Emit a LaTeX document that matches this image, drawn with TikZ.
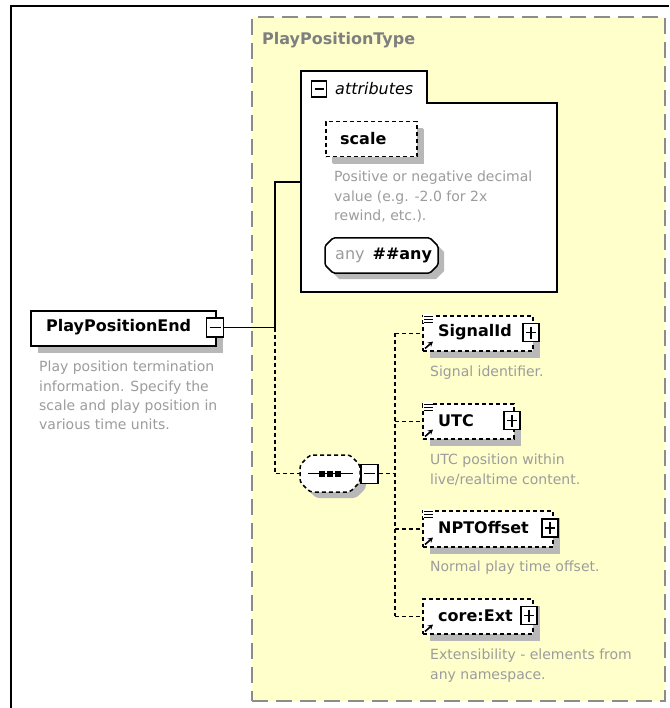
\documentclass[tikz,border=0pt]{standalone}
\usepackage{fontspec}
\setmainfont{DejaVu Sans}
\usetikzlibrary{shadows,arrows.meta}
\definecolor{ylw}{HTML}{FFFFCC}
\definecolor{ybord}{HTML}{8C8C8C}
\definecolor{shd}{HTML}{B8B8B8}
\definecolor{desc}{HTML}{9C9C9C}
\definecolor{ttl}{HTML}{7F7F7F}
\newcommand\NmFont{\fontsize{16}{19}\selectfont\bfseries}
\newcommand\DsFont{\fontsize{14}{19.3}\selectfont}
\newcommand\chamf[5]{({#1+#5},#2) -- ({#3-#5},#2) -- (#3,{#2+#5}) -- (#3,{#4-#5}) -- ({#3-#5},#4) -- ({#1+#5},#4) -- (#1,{#4-#5}) -- (#1,{#2+#5}) -- cycle}
\tikzset{
  shad/.style={drop shadow={shadow xshift=7pt,shadow yshift=-7pt,fill=shd,opacity=1}},
  elembox/.style={draw=black,line width=1.5pt,fill=white,rectangle,inner sep=0pt,anchor=north west,shad},
  optbox/.style={elembox,dash pattern=on 4pt off 3pt},
  nametxt/.style={font=\NmFont,inner sep=0pt,anchor=west},
  desctxt/.style={font=\DsFont,text=desc,inner sep=0pt,anchor=north west,align=left},
  icon/.style={draw=black,line width=1.3pt,fill=white,minimum width=16pt,minimum height=18pt,inner sep=0pt},
  minusicon/.style={icon,path picture={\draw[line width=1.3pt] ([xshift=3pt]path picture bounding box.west) -- ([xshift=-3pt]path picture bounding box.east);}},
  plusicon/.style={icon,path picture={\draw[line width=1.3pt] ([xshift=3pt]path picture bounding box.west) -- ([xshift=-3pt]path picture bounding box.east);
     \draw[line width=1.3pt] ([yshift=-3pt]path picture bounding box.north) -- ([yshift=3pt]path picture bounding box.south);}},
  conn/.style={line width=1.5pt,draw=black},
  dconn/.style={conn,dash pattern=on 4pt off 3pt},
  refarrow/.style={line width=1.6pt,-{Stealth[length=5pt,width=5.5pt]}},
}
\newcommand\kidmarks[1]{%
  \fill[white] ([xshift=1pt,yshift=1pt]#1.north west) rectangle ++(10pt,-9pt);
  \foreach \yy in {1.5,4.5,7.5} \draw[line width=1pt] ([xshift=2pt,yshift=-\yy pt]#1.north west) -- ++(9pt,0pt);
  \draw[refarrow] ([xshift=3pt,yshift=3pt]#1.south west) -- ++(8pt,7pt);
}
\begin{document}
\begin{tikzpicture}[x=1pt,y=-1pt]
\useasboundingbox (0,0) rectangle (669,708);
\fill[white] (0,0) rectangle (669,708);
\draw[line width=2pt] (11,708) -- (11,6) -- (669,6);

% complex type container
\node[draw=ybord,fill=ylw,dash pattern=on 16pt off 8pt,line width=1.6pt,minimum width=413pt,minimum height=684pt,anchor=north west,inner sep=0pt] (ptype) at (251,16) {};
\node[font=\NmFont,text=ttl,anchor=west,inner sep=0pt] (ptypeT) at (262,40) {PlayPositionType};

% attributes box
\draw[line width=1.5pt,fill=white] (301,71) -- (427,71) -- (427,103) -- (557,103) -- (557,292) -- (301,292) -- cycle;
\coordinate (attrIn) at (301,182);
\node[minusicon,minimum width=15pt,minimum height=16pt] (attrI) at (319,89) {};
\node[font=\fontsize{16}{19}\selectfont\itshape,anchor=west,inner sep=0pt] (attrT) at (335,89) {attributes};

\node[optbox,minimum width=91pt,minimum height=35pt,drop shadow={shadow xshift=6pt,shadow yshift=-6pt,fill=shd,opacity=1}] (scale) at (325,121) {};
\node[nametxt] (scaleT) at (340,138.5) {scale};
\node[desctxt] (scaleD) at (334,171) {Positive or negative decimal\\value (e.g. -2.0 for 2x\\rewind, etc.).};

\fill[shd] \chamf{331}{244}{444}{279}{8};
\filldraw[fill=white,draw=black,line width=1.5pt,rounded corners=1.5pt] \chamf{325}{238}{438}{273}{8};
\node[inner sep=0pt,minimum width=113pt,minimum height=35pt,anchor=north west] (anyB) at (325,238) {};
\node[anchor=west,inner sep=0pt,font=\fontsize{16}{19}\selectfont] (anyT) at (335,255.5) {\textcolor{desc}{any}\hspace{8pt}\textbf{\#\#any}};

% root element
\node[elembox,minimum width=185pt,minimum height=35pt] (ppe) at (30,310) {};
\node[nametxt] (ppeT) at (46,327.5) {PlayPositionEnd};
\node[minusicon,minimum width=17pt,minimum height=19pt] (ppeI) at (215,327.5) {};
\node[desctxt] (ppeD) at (39,361) {Play position termination\\information. Specify the\\scale and play position in\\various time units.};

% sequence compositor
\fill[shd,rounded corners=3pt] \chamf{306}{461}{366}{498}{10};
\filldraw[fill=white,draw=black,line width=1.5pt,dash pattern=on 4pt off 3pt,rounded corners=3pt] \chamf{300}{455}{360}{492}{10};
\node[inner sep=0pt,minimum width=60pt,minimum height=37pt,anchor=north west] (comp) at (300,455) {};
\draw[line width=1.5pt] ([xshift=8pt]comp.west) -- ([xshift=-7pt]comp.east);
\foreach \dx in {-8,0,8} \fill ([xshift=\dx pt]comp.center) +(-2.8pt,-2.8pt) rectangle +(2.8pt,2.8pt);
\node[minusicon,minimum width=17pt,minimum height=19pt,anchor=west] (compI) at (comp.east) {};

% child elements
\node[optbox,minimum width=110pt,minimum height=35pt] (sig) at (422,315) {};
\node[nametxt] (sigT) at (438,332.5) {SignalId};
\node[plusicon] (sigI) at (531,332.5) {};
\node[desctxt] (sigD) at (430,366) {Signal identifier.};
\kidmarks{sig}

\node[optbox,minimum width=91pt,minimum height=35pt] (utc) at (422,403) {};
\node[nametxt] (utcT) at (438,420.5) {UTC};
\node[plusicon] (utcI) at (512,420.5) {};
\node[desctxt] (utcD) at (430,454) {UTC position within\\live/realtime content.};
\kidmarks{utc}

\node[optbox,minimum width=130pt,minimum height=36pt] (npt) at (422,510) {};
\node[nametxt] (nptT) at (438,528) {NPTOffset};
\node[plusicon] (nptI) at (550,528) {};
\node[desctxt] (nptD) at (430,561) {Normal play time offset.};
\kidmarks{npt}

\node[optbox,minimum width=110pt,minimum height=35pt] (ext) at (422,598) {};
\node[nametxt] (extT) at (438,615.5) {core:Ext};
\node[plusicon] (extI) at (529,615.5) {};
\node[desctxt] (extD) at (430,649) {Extensibility - elements from\\any namespace.};
\draw[refarrow] ([xshift=3pt,yshift=3pt]ext.south west) -- ++(8pt,7pt);

% connectors
\coordinate (j1) at (275,327.5);
\coordinate (bx) at (395,0);
\draw[conn] (ppeI.east) -- (j1) |- (attrIn);
\draw[dconn] (j1) |- (comp.west);
\draw[dconn] (compI.east) -- (bx |- comp.east);
\draw[dconn] (bx |- sig.west) -- (bx |- ext.west);
\draw[dconn] (bx |- sig.west) -- (sig.west);
\draw[dconn] (bx |- utc.west) -- (utc.west);
\draw[dconn] (bx |- npt.west) -- (npt.west);
\draw[dconn] (bx |- ext.west) -- (ext.west);
\end{tikzpicture}
\end{document}
